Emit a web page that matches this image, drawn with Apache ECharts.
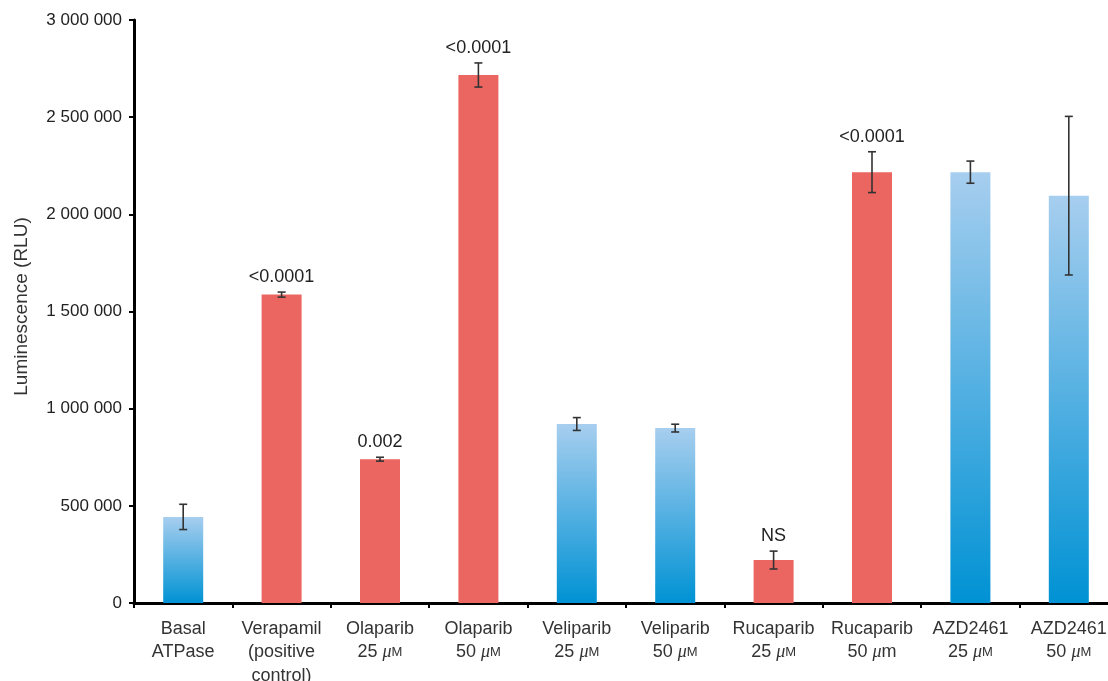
<!DOCTYPE html>
<html>
<head>
<meta charset="utf-8">
<script src="https://cdn.jsdelivr.net/npm/echarts@6/dist/echarts.min.js"></script>
<style>
html,body{margin:0;padding:0;background:#fff;}
#chart{width:1108px;height:681px;}
</style>
</head>
<body>
<div id="chart"></div>
<script>
// ---- data ----
var categories = [
  'Basal\nATPase',
  'Verapamil\n(positive\ncontrol)',
  'Olaparib\n25 {mu|μ}{sc|M}',
  'Olaparib\n50 {mu|μ}{sc|M}',
  'Veliparib\n25 {mu|μ}{sc|M}',
  'Veliparib\n50 {mu|μ}{sc|M}',
  'Rucaparib\n25 {mu|μ}{sc|M}',
  'Rucaparib\n50 {mu|μ}m',
  'AZD2461\n25 {mu|μ}{sc|M}',
  'AZD2461\n50 {mu|μ}{sc|M}'
];
var values = [443000, 1587000, 740000, 2717000, 921000, 900000, 221000, 2217000, 2217000, 2096000];
var errors = [65000, 13000, 10000, 62000, 33000, 20000, 46000, 105000, 57000, 408000];
var pLabels = ['', '<0.0001', '0.002', '<0.0001', '', '', 'NS', '<0.0001', '', ''];
var isRed = [false, true, true, true, false, false, true, true, false, false];
var yTicks = [0, 500000, 1000000, 1500000, 2000000, 2500000, 3000000];

// ---- chart ----
var FONT = '"Liberation Sans", Arial, Helvetica, sans-serif';
var chart = echarts.init(document.getElementById('chart'), null, {renderer: 'canvas'});
var blueGrad = {type: 'linear', x: 0, y: 0, x2: 0, y2: 1,
  colorStops: [{offset: 0, color: '#A7CEEF'}, {offset: 1, color: '#0092D4'}]};
var redCol = '#EB6660';

var barData = values.map(function (v, i) {
  return {value: v, itemStyle: {color: isRed[i] ? redCol : blueGrad}};
});
var errData = values.map(function (v, i) { return [i, v, errors[i]]; });

function fmt(v) {
  return String(v).replace(/\B(?=(\d{3})+(?!\d))/g, ' ');
}

var rich = {
  mu: {fontFamily: '"Liberation Serif", "DejaVu Serif", serif', fontStyle: 'italic', fontSize: 18, color: '#333', lineHeight: 23.5},
  sc: {fontFamily: FONT, fontSize: 13, color: '#333', lineHeight: 23.5}
};

chart.setOption({
  animation: false,
  grid: {left: 134, top: 20, width: 984, height: 583, containLabel: false, outerBoundsMode: 'none'},
  xAxis: {
    type: 'category',
    data: categories,
    boundaryGap: true,
    axisLine: {show: true, lineStyle: {color: '#000', width: 3}},
    axisTick: {show: true, length: 5, lineStyle: {color: '#000', width: 2}},
    axisLabel: {
      interval: 0, margin: 14, color: '#333', fontFamily: FONT, fontSize: 18,
      lineHeight: 23.5, rich: rich, hideOverlap: false
    },
    splitLine: {show: false}
  },
  yAxis: {
    type: 'value',
    min: yTicks[0], max: yTicks[yTicks.length - 1], interval: yTicks[1] - yTicks[0],
    name: 'Luminescence (RLU)',
    nameLocation: 'middle',
    nameGap: 103,
    nameRotate: 90,
    nameTextStyle: {color: '#333', fontFamily: FONT, fontSize: 19, padding: [0, 0, 0, 10]},
    axisLine: {show: true, lineStyle: {color: '#000', width: 3}},
    axisTick: {show: true, length: 5, lineStyle: {color: '#000', width: 2}},
    axisLabel: {margin: 12, color: '#222', fontFamily: FONT, fontSize: 17, formatter: fmt},
    splitLine: {show: false}
  },
  series: [
    {
      type: 'bar',
      data: barData,
      barWidth: 40,
      z: 2
    },
    {
      type: 'custom',
      data: errData,
      z: 5,
      renderItem: function (params, api) {
        var i = api.value(0), v = api.value(1), e = api.value(2);
        var lbl = pLabels[params.dataIndex];
        var top = api.coord([i, v + e]);
        var bot = api.coord([i, v - e]);
        var x = top[0], hw = 4;
        var st = {stroke: '#333', lineWidth: 1.6};
        var children = [
          {type: 'line', shape: {x1: x, y1: top[1], x2: x, y2: bot[1]}, style: st},
          {type: 'line', shape: {x1: x - hw, y1: top[1], x2: x + hw, y2: top[1]}, style: st},
          {type: 'line', shape: {x1: x - hw, y1: bot[1], x2: x + hw, y2: bot[1]}, style: st}
        ];
        if (lbl) {
          children.push({
            type: 'text',
            x: x, y: top[1] - 6,
            style: {text: lbl, fill: '#222', font: '18px ' + FONT, align: 'center', verticalAlign: 'bottom'}
          });
        }
        return {type: 'group', children: children};
      }
    }
  ]
});
</script>
</body>
</html>
